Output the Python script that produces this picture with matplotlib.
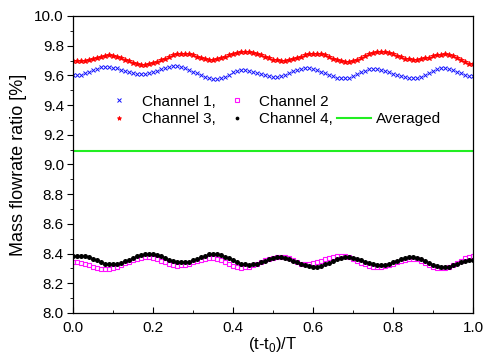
import numpy as np
import matplotlib
matplotlib.use('Agg')
import matplotlib.pyplot as plt
from matplotlib.lines import Line2D

plt.rcParams['font.family'] = ['Liberation Sans', 'DejaVu Sans']

# normalised time, one sample every 0.01 of the period
t = np.linspace(0.0, 1.0, 101)

ch1 = [9.600, 9.601, 9.605, 9.613, 9.624, 9.635, 9.646, 9.654, 9.659, 9.658,
       9.653, 9.647, 9.638, 9.630, 9.622, 9.615, 9.610, 9.609, 9.610, 9.614,
       9.621, 9.631, 9.641, 9.651, 9.658, 9.663, 9.661, 9.656, 9.648, 9.638,
       9.626, 9.613, 9.601, 9.591, 9.583, 9.578, 9.576, 9.580, 9.591, 9.606,
       9.621, 9.632, 9.636, 9.636, 9.632, 9.626, 9.618, 9.608, 9.600, 9.594,
       9.590, 9.592, 9.598, 9.606, 9.616, 9.627, 9.636, 9.644, 9.647, 9.648,
       9.644, 9.636, 9.626, 9.615, 9.603, 9.593, 9.585, 9.581, 9.580, 9.585,
       9.595, 9.607, 9.621, 9.632, 9.640, 9.643, 9.641, 9.637, 9.630, 9.621,
       9.612, 9.602, 9.593, 9.586, 9.582, 9.580, 9.583, 9.591, 9.603, 9.617,
       9.630, 9.641, 9.647, 9.648, 9.644, 9.636, 9.625, 9.614, 9.605, 9.598,
       9.596]

ch2 = [8.340, 8.340, 8.337, 8.330, 8.321, 8.310, 8.302, 8.297, 8.296, 8.299,
       8.305, 8.313, 8.323, 8.334, 8.345, 8.355, 8.364, 8.370, 8.374, 8.375,
       8.372, 8.364, 8.353, 8.340, 8.329, 8.321, 8.318, 8.320, 8.324, 8.331,
       8.340, 8.349, 8.357, 8.363, 8.367, 8.368, 8.365, 8.356, 8.343, 8.330,
       8.317, 8.308, 8.305, 8.307, 8.312, 8.321, 8.331, 8.343, 8.355, 8.365,
       8.373, 8.378, 8.379, 8.376, 8.367, 8.355, 8.342, 8.333, 8.330, 8.332,
       8.337, 8.344, 8.353, 8.363, 8.372, 8.379, 8.383, 8.384, 8.382, 8.375,
       8.365, 8.353, 8.339, 8.327, 8.317, 8.310, 8.308, 8.310, 8.315, 8.322,
       8.331, 8.341, 8.350, 8.357, 8.362, 8.364, 8.361, 8.351, 8.338, 8.324,
       8.311, 8.303, 8.301, 8.302, 8.308, 8.320, 8.335, 8.352, 8.367, 8.379,
       8.386]

ch3 = [9.697, 9.696, 9.695, 9.697, 9.703, 9.711, 9.719, 9.727, 9.733, 9.735,
       9.733, 9.727, 9.717, 9.705, 9.694, 9.683, 9.675, 9.671, 9.670, 9.674,
       9.681, 9.690, 9.702, 9.713, 9.725, 9.734, 9.741, 9.745, 9.745, 9.741,
       9.734, 9.725, 9.716, 9.709, 9.705, 9.705, 9.709, 9.716, 9.725, 9.735,
       9.745, 9.753, 9.758, 9.760, 9.758, 9.753, 9.746, 9.736, 9.726, 9.716,
       9.707, 9.701, 9.697, 9.697, 9.701, 9.708, 9.717, 9.726, 9.735, 9.742,
       9.746, 9.745, 9.741, 9.734, 9.723, 9.713, 9.702, 9.695, 9.691, 9.691,
       9.696, 9.705, 9.717, 9.730, 9.743, 9.753, 9.759, 9.760, 9.757, 9.750,
       9.741, 9.731, 9.722, 9.713, 9.708, 9.706, 9.706, 9.709, 9.714, 9.720,
       9.728, 9.734, 9.739, 9.742, 9.739, 9.729, 9.716, 9.701, 9.688, 9.678,
       9.675]

ch4 = [8.383, 8.385, 8.385, 8.383, 8.376, 8.365, 8.354, 8.342, 8.333, 8.329,
       8.328, 8.332, 8.339, 8.349, 8.360, 8.371, 8.381, 8.390, 8.395, 8.397,
       8.395, 8.389, 8.381, 8.371, 8.360, 8.351, 8.343, 8.340, 8.340, 8.345,
       8.354, 8.365, 8.377, 8.387, 8.395, 8.397, 8.395, 8.389, 8.379, 8.367,
       8.355, 8.343, 8.333, 8.327, 8.325, 8.327, 8.333, 8.342, 8.353, 8.363,
       8.370, 8.374, 8.374, 8.370, 8.362, 8.352, 8.341, 8.329, 8.320, 8.314,
       8.312, 8.313, 8.318, 8.327, 8.339, 8.352, 8.364, 8.373, 8.379, 8.377,
       8.372, 8.365, 8.356, 8.346, 8.337, 8.330, 8.325, 8.323, 8.325, 8.331,
       8.340, 8.351, 8.361, 8.369, 8.374, 8.375, 8.372, 8.364, 8.352, 8.339,
       8.326, 8.315, 8.309, 8.308, 8.312, 8.320, 8.329, 8.340, 8.349, 8.355,
       8.357]

averaged = 9.09

fig = plt.figure(figsize=(4.85, 3.61), dpi=100)
ax = fig.add_axes([0.1505, 0.133, 0.8247, 0.8227])

h1, = ax.plot(t, ch1, ls='none', marker='x', ms=3.2, mew=0.7, color='#1010ff')
h2, = ax.plot(t, ch2, ls='none', marker='s', ms=3.0, mew=0.8, mfc='none', mec='#ff10ff')
h3, = ax.plot(t, ch3, ls='none', marker='*', ms=4.2, mew=0.6, color='#ff0000')
h4, = ax.plot(t, ch4, ls='none', marker='o', ms=3.6, mew=0, color='black')
h5 = ax.axhline(averaged, color='#22ee22', lw=1.5)

ax.set_xlim(0, 1)
ax.set_ylim(8.0, 10.0)
ax.set_xticks(np.arange(0, 1.01, 0.2))
ax.set_xticks(np.arange(0.1, 1.0, 0.2), minor=True)
ax.set_yticks(np.arange(8.0, 10.01, 0.2))
ax.set_yticks(np.arange(8.1, 10.0, 0.2), minor=True)
ax.xaxis.set_major_formatter(matplotlib.ticker.FormatStrFormatter('%.1f'))
ax.yaxis.set_major_formatter(matplotlib.ticker.FormatStrFormatter('%.1f'))
ax.tick_params(axis='x', which='both', direction='in', labelsize=11, pad=6)
ax.tick_params(axis='x', which='major', length=4)
ax.tick_params(axis='x', which='minor', length=2.5)
ax.tick_params(axis='y', which='both', direction='out', labelsize=11, pad=2)
ax.tick_params(axis='y', which='major', length=4.5)
ax.tick_params(axis='y', which='minor', length=2.5)
for s in ax.spines.values():
    s.set_linewidth(0.9)

ax.set_xlabel('(t-t$_\\mathregular{0}$)/T', fontsize=12, labelpad=0)
ax.set_ylabel('Mass flowrate ratio [%]', fontsize=13, labelpad=5)

blank = Line2D([], [], ls='none', marker='none')
ax.legend([h1, h3, h2, h4, blank, h5],
          ['Channel 1,', 'Channel 3,', 'Channel 2', 'Channel 4,', '', 'Averaged'],
          ncol=3, loc='center', bbox_to_anchor=(0.4975, 0.682), frameon=False,
          fontsize=11, handlelength=2.2, handletextpad=0.35, columnspacing=0.3,
          labelspacing=0.25, borderpad=0.2, markerscale=0.75)

fig.savefig('out.png', dpi=100, facecolor='white')
